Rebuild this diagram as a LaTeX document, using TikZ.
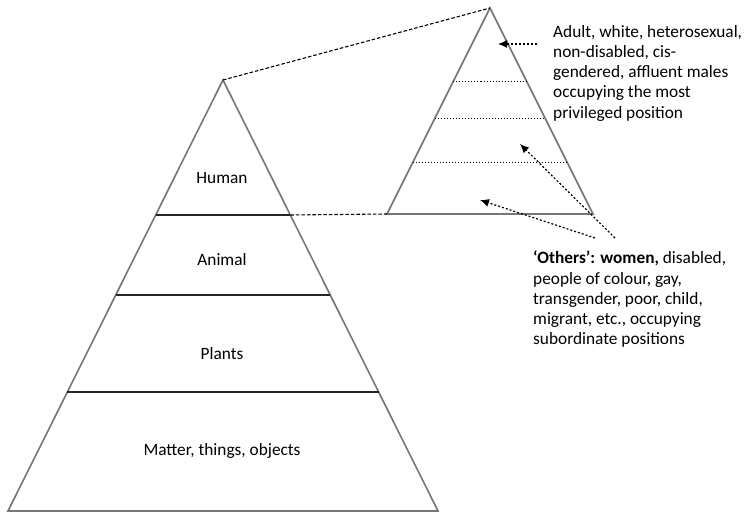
\documentclass[tikz,border=0pt]{standalone}
\usepackage{fontspec}
\setmainfont{Carlito}
\usetikzlibrary{arrows.meta, calc}
\definecolor{outlinegray}{RGB}{118,118,118}

\begin{document}
\begin{tikzpicture}[
  x=1pt, y=-1pt,
  outline/.style={draw=outlinegray, line width=1.6pt, line join=miter},
  layer/.style={draw=black!85, line width=1.7pt},
  sublayer/.style={draw=black, line width=1pt, dotted},
  zoomline/.style={draw=black, line width=1.1pt, dash pattern=on 3.5pt off 2pt},
  pointer/.style={-{Latex[length=9pt, width=8pt]}, line width=1.2pt, dash pattern=on 2pt off 2pt},
  layertext/.style={font=\fontsize{17.3}{20}\selectfont, inner sep=0pt, anchor=base},
  note/.style={font=\fontsize{17.3}{20.2}\selectfont, inner sep=0pt, align=left, anchor=north west},
]
  \useasboundingbox (0,0) rectangle (748,513);

  % Big pyramid
  \coordinate (bigtop) at (223,80);
  \coordinate (bigleft) at (8,511);
  \coordinate (bigright) at (438,511);
  \draw [outline] (bigtop) -- (bigright) -- (bigleft) -- cycle;
  \foreach \f [count=\k] in {0.3132,0.4988,0.7239} {
    \draw [layer] ($(bigtop)!\f!(bigleft)$) coordinate (bl\k) -- ($(bigtop)!\f!(bigright)$) coordinate (br\k);
  }

  % Layer labels
  \node (human) [layertext] at (222,184) {Human};
  \node (animal) [layertext] at (222,266) {Animal};
  \node (plants) [layertext] at (222,360) {Plants};
  \node (matter) [layertext] at (222,456) {Matter, things, objects};

  % Small pyramid (zoom of the human layer)
  \coordinate (smalltop) at (490,8);
  \coordinate (smallleft) at (387,214);
  \coordinate (smallright) at (593,214);
  \draw [outline] (smalltop) -- (smallright) -- (smallleft) -- cycle;
  \foreach \f [count=\k] in {0.3544,0.5340,0.7476} {
    \draw [sublayer] ($(smalltop)!\f!(smallleft)$) coordinate (sl\k) -- ($(smalltop)!\f!(smallright)$) coordinate (sr\k);
  }

  % Zoom lines
  \draw [zoomline] (bigtop) -- (smalltop);
  \draw [zoomline] (br1) -- (smallleft);

  % Notes
  \node (privileged) [note] at (553,25) {Adult, white, heterosexual,\\non-disabled, cis-\\gendered, affluent males\\occupying the most\\privileged position};
  \node (others) [note] at (533,251) {\textbf{‘Others’: women,} disabled,\\people of colour, gay,\\transgender, poor, child,\\migrant, etc., occupying\\subordinate positions};

  % Pointers
  \coordinate (toptail) at (537,44);
  \coordinate (tophead) at (498,44);
  \coordinate (midtail) at (615,238);
  \coordinate (midhead) at (520,144);
  \coordinate (lowtail) at (595,238);
  \coordinate (lowhead) at (480,200);
  \draw [pointer] (toptail) -- (tophead);
  \draw [pointer] (midtail) -- (midhead);
  \draw [pointer] (lowtail) -- (lowhead);

\end{tikzpicture}
\end{document}
